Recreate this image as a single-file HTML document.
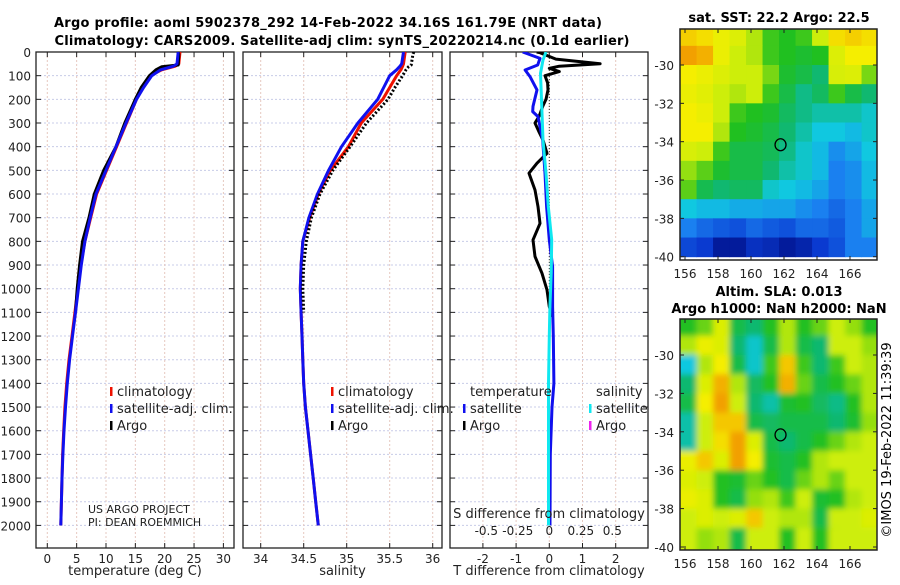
<!DOCTYPE html>
<html><head><meta charset="utf-8"><style>
body{margin:0;background:#fff;}
svg text{font-family:"DejaVu Sans","Liberation Sans",sans-serif;}
</style></head><body>
<svg id="s" width="900" height="580" viewBox="0 0 900 580" xmlns="http://www.w3.org/2000/svg">
<defs>
<clipPath id="c1"><rect x="36" y="52" width="198" height="496"/></clipPath>
<clipPath id="c2"><rect x="243" y="52" width="199" height="496"/></clipPath>
<clipPath id="c3"><rect x="450" y="52" width="198" height="496"/></clipPath>
<clipPath id="m1"><rect x="680" y="29" width="197" height="231"/></clipPath>
<clipPath id="m2"><rect x="680" y="319" width="197" height="231"/></clipPath>
<filter id="blur" x="-10%" y="-10%" width="120%" height="120%"><feGaussianBlur stdDeviation="3"/></filter>
</defs>
<text x="328" y="27" text-anchor="middle" font-size="13" font-weight="bold" textLength="548">Argo profile: aoml 5902378_292 14-Feb-2022 34.16S 161.79E (NRT data)</text>
<text x="342" y="45" text-anchor="middle" font-size="13" font-weight="bold" textLength="575">Climatology: CARS2009. Satellite-adj clim: synTS_20220214.nc (0.1d earlier)</text>
<text x="779" y="22" text-anchor="middle" font-size="13" font-weight="bold">sat. SST: 22.2 Argo: 22.5</text>
<text x="779" y="296" text-anchor="middle" font-size="13" font-weight="bold">Altim. SLA: 0.013</text>
<text x="779" y="313" text-anchor="middle" font-size="13" font-weight="bold">Argo h1000: NaN h2000: NaN</text>
<text transform="translate(891,440) rotate(-90)" text-anchor="middle" font-size="13">©IMOS 19-Feb-2022 11:39:39</text>
<g id="g"></g>
</svg>
<script>
// ---- data ----
const depths=[0,50,60,75,100,150,200,300,400,500,600,700,800,900,1000,1100,1200,1300,1400,1500,1600,1700,1800,1900,2000];
const climT=[22.6,22.4,21.8,19.5,17.5,16.2,15.2,13.5,11.8,10.1,8.4,7.4,6.4,5.7,5.2,4.7,4.2,3.7,3.3,3.0,2.8,2.6,2.5,2.4,2.3];
const satT=[22.3,22.1,21.5,19.3,17.8,16.4,15.2,13.4,11.7,10.0,8.3,7.3,6.4,5.8,5.3,4.8,4.3,3.8,3.4,3.1,2.85,2.65,2.5,2.4,2.3];
const argoDepth=[0,10,55,62,75,100,150,200,300,400,500,600,700,800,900,1000,1100];
const argoT=[22.3,22.4,22.3,19.5,18.5,17.4,16.0,15.0,13.2,11.7,9.6,8.0,7.1,6.0,5.5,5.1,4.8];
const climS=[35.68,35.66,35.65,35.63,35.58,35.5,35.42,35.17,35.02,34.81,34.67,34.57,34.49,34.47,34.46,34.47,34.48,34.49,34.5,34.52,34.55,34.58,34.61,34.64,34.67];
const satS=[35.66,35.64,35.62,35.58,35.5,35.43,35.36,35.13,34.94,34.79,34.66,34.56,34.49,34.47,34.46,34.47,34.48,34.49,34.5,34.52,34.55,34.58,34.61,34.64,34.67];
const argoS=[35.78,35.77,35.75,35.72,35.69,35.65,35.56,35.48,35.23,35.04,34.84,34.69,34.59,34.53,34.5,34.49,34.5];
const dDepth=[0,3,30,50,60,69,83,100,130,160,200,230,270,300,340,372,428,470,512,583,653,724,794,864,935,1005,1076,1118];
const dTargo=[-0.38,-0.28,0.2,1.53,0.3,0,0.3,-0.13,-0.05,-0.04,-0.1,-0.2,-0.3,-0.43,-0.3,-0.19,-0.07,-0.37,-0.61,-0.43,-0.34,-0.28,-0.49,-0.43,-0.22,-0.07,0,0.1];
const satDDepth=[0,27,55,76,104,160,230,252,273,372,512,653,794,907,1076,1200,1400,1500,1700,2000];
const dTsat=[-0.8,-0.28,-0.35,-0.73,-0.58,-0.37,-0.49,-0.5,-0.34,-0.2,-0.13,-0.08,0,0.1,0.1,0.12,0.14,0.08,0.03,0.02];
const satSDepth=[0,34,90,372,512,653,794,935,1076,1200,1400,2000];
const dSsat=[-0.026,-0.05,-0.07,-0.05,-0.026,-0.008,0.019,0.015,0.005,0,-0.006,-0.006];
const depthTicks=[0,100,200,300,400,500,600,700,800,900,1000,1100,1200,1300,1400,1500,1600,1700,1800,1900,2000];
const tTicks=[0,5,10,15,20,25,30];
const sTicks=[34,34.5,35,35.5,36];
const dTicks=[-2,-1,0,1,2];
const sDiffTicks=["-0.5","-0.25","0","0.25","0.5"];
const lonTicks=[156,158,160,162,164,166];
const latTicks=[-30,-32,-34,-36,-38,-40];
const sst=[
[.84,.82,.78,.75,.7,.62,.6,.62,.72,.82,.84,.82],
[.9,.88,.78,.72,.7,.62,.6,.58,.6,.75,.8,.8],
[.8,.78,.75,.72,.72,.66,.58,.55,.5,.74,.75,.66],
[.78,.76,.72,.7,.72,.62,.55,.48,.52,.62,.55,.5],
[.8,.78,.72,.62,.6,.58,.52,.48,.45,.45,.45,.42],
[.8,.8,.7,.6,.58,.55,.5,.45,.4,.4,.38,.42],
[.74,.72,.62,.55,.55,.53,.48,.42,.38,.32,.35,.4],
[.68,.64,.58,.55,.55,.5,.45,.42,.38,.3,.32,.38],
[.64,.54,.5,.52,.52,.42,.4,.38,.35,.3,.32,.38],
[.4,.38,.38,.36,.36,.35,.35,.32,.3,.25,.3,.35],
[.3,.25,.22,.2,.25,.22,.2,.25,.25,.22,.3,.35],
[.18,.15,.05,.05,.12,.1,.05,.08,.15,.2,.3,.3]];
const sla=[
[.6,.65,.75,.55,.5,.6,.7,.6,.65,.72,.68,.6],
[.7,.78,.75,.5,.42,.55,.7,.55,.5,.72,.72,.68],
[.4,.7,.8,.55,.42,.62,.85,.62,.5,.62,.72,.7],
[.5,.75,.88,.7,.52,.6,.88,.65,.55,.6,.65,.7],
[.55,.8,.9,.72,.5,.45,.58,.6,.52,.48,.6,.7],
[.45,.72,.85,.85,.55,.52,.55,.55,.55,.5,.58,.68],
[.45,.72,.82,.9,.75,.55,.5,.55,.6,.65,.7,.72],
[.78,.85,.75,.9,.8,.58,.55,.6,.7,.72,.72,.72],
[.75,.72,.6,.58,.65,.6,.55,.65,.7,.65,.72,.72],
[.78,.75,.6,.55,.68,.7,.62,.72,.58,.6,.7,.72],
[.72,.75,.72,.75,.85,.72,.7,.7,.55,.72,.72,.75],
[.72,.68,.7,.55,.72,.72,.6,.72,.6,.72,.72,.72]];
const argoLon=161.79, argoLat=-34.16;

// ---- scales ----
const yD=d=>52+d*0.2367;
const xT=v=>47.3+v*5.87;
const xS=v=>260.7+(v-34)*86;
const xDT=v=>549.3+v*33.2;
const xDS=v=>549.3+v*126;
const lonX=l=>685+(l-156)*16.5;
const latY1=l=>65+(-30-l)*19.17;
const latY2=l=>355+(-30-l)*19.2;

const NS="http://www.w3.org/2000/svg";
const G=document.getElementById('g');
function mk(tag,at,par){const e=document.createElementNS(NS,tag);for(const k in at)e.setAttribute(k,at[k]);(par||G).appendChild(e);return e;}
function txt(x,y,s,anchor,size,par){const e=mk('text',{x:x,y:y,'text-anchor':anchor||'start','font-size':size||12,fill:'#222'},par);e.textContent=s;return e;}
function line(xs,ds,xf,col,w,clip,dash){
  let p=ds.map((d,i)=>(i?'L':'M')+xf(xs[i]).toFixed(1)+','+yD(d).toFixed(1)).join('');
  const e=mk('path',{d:p,fill:'none',stroke:col,'stroke-width':w,'stroke-linejoin':'round','clip-path':'url(#'+clip+')'});
  if(dash)e.setAttribute('stroke-dasharray',dash);
  return e;
}

const panels=[{x0:36,x1:234,ticks:tTicks,xf:xT,clip:'c1',lab:'temperature (deg C)'},
              {x0:243,x1:442,ticks:sTicks,xf:xS,clip:'c2',lab:'salinity'},
              {x0:450,x1:648,ticks:dTicks,xf:xDT,clip:'c3',lab:'T difference from climatology'}];
panels.forEach((p,pi)=>{
  const grp=mk('g',{});
  
  
  depthTicks.forEach(d=>{
    const gl=mk('line',{x1:p.x0,x2:p.x1,y1:yD(d),y2:yD(d),stroke:'#c8cce8','stroke-width':1,'stroke-dasharray':'2,2'},grp);
    
    
    mk('line',{x1:p.x0,x2:p.x0+5,y1:yD(d),y2:yD(d),stroke:'#222'},grp);
    mk('line',{x1:p.x1-5,x2:p.x1,y1:yD(d),y2:yD(d),stroke:'#222'},grp);
  });
  p.ticks.forEach(t=>{
    const x=p.xf(t);
    const gl=mk('line',{x1:x,x2:x,y1:52,y2:548,stroke:'#e6c8c0','stroke-width':1,'stroke-dasharray':'2,2'},grp);
    
    
    mk('line',{x1:x,x2:x,y1:52,y2:57,stroke:'#222'},grp);
    mk('line',{x1:x,x2:x,y1:543,y2:548,stroke:'#222'},grp);
    const lt=txt(x,563,String(t),'middle',12,grp);
    
    
  });
  const fr=mk('rect',{x:p.x0,y:52,width:p.x1-p.x0,height:496,fill:'none',stroke:'#222','stroke-width':1.3},grp);
  
  
  const xl=txt((p.x0+p.x1)/2,575,p.lab,'middle',13,grp);
  
  
});
depthTicks.forEach(d=>{
  const t=txt(31,yD(d)+5,String(d),'end',12);
  
  
});

let e;
e=line(climT,depths,xT,'#ee1100',3,'c1');


e=line(argoT,argoDepth,xT,'#000',3,'c1');


e=line(satT,depths,xT,'#1010ee',3,'c1');


e=line(climS,depths,xS,'#ee1100',3,'c2');


e=line(satS,depths,xS,'#1010ee',3,'c2');


e=line(argoS,argoDepth,xS,'#000',3,'c2','2,2');


e=mk('line',{x1:xDT(0),x2:xDT(0),y1:yD(0),y2:yD(1110),stroke:'#333','stroke-width':1,'stroke-dasharray':'1,2'});


e=line(dTargo,dDepth,xDT,'#000',3,'c3');


e=line(dTsat,satDDepth,xDT,'#1010ee',3,'c3');


e=line(dSsat,satSDepth,xDS,'#10e8f0',3,'c3');



function legend(x,y,col,label,name){
  const g=mk('g',{});
  
  
  mk('rect',{x:x,y:y-9,width:2.5,height:9,fill:col},g);
  txt(x+7,y,label,'start',13,g);
}
legend(110,396,'#ee1100','climatology','legend-entry-climatology');
legend(110,413,'#1010ee','satellite-adj. clim.','legend-entry-satellite');
legend(110,430,'#000','Argo','legend-entry-argo');
legend(331,396,'#ee1100','climatology','legend-entry-climatology-s');
legend(331,413,'#1010ee','satellite-adj. clim.','legend-entry-satellite-s');
legend(331,430,'#000','Argo','legend-entry-argo-s');
e=txt(470,396,'temperature','start',13);


e=txt(596,396,'salinity','start',13);


legend(463,413,'#1010ee','satellite','legend-entry-t-satellite');
legend(463,430,'#000','Argo','legend-entry-t-argo');
legend(589,413,'#10e8f0','satellite','legend-entry-s-satellite');
legend(589,430,'#ee22ee','Argo','legend-entry-s-argo');
e=txt(88,513,'US ARGO PROJECT','start',11);


e=txt(88,526,'PI: DEAN ROEMMICH','start',11);


e=txt(549,518,'S difference from climatology','middle',13);


sDiffTicks.forEach(s=>{
  const t=txt(xDS(parseFloat(s)),535,s,'middle',12);
  
  
});

const stops=[[0,[0,12,128]],[.15,[10,58,208]],[.3,[26,128,240]],[.4,[16,200,224]],[.5,[16,184,112]],[.6,[32,192,32]],[.66,[120,215,20]],[.72,[205,238,10]],[.8,[245,238,0]],[.9,[242,160,0]],[1,[208,96,0]]];
function cmap(v){
  for(let i=1;i<stops.length;i++){if(v<=stops[i][0]){const a=stops[i-1],b=stops[i],t=(v-a[0])/(b[0]-a[0]);
    return 'rgb('+a[1].map((c,k)=>Math.round(c+(b[1][k]-c)*t)).join(',')+')';}}
  return 'rgb(208,96,0)';
}
function drawMap(data,latY,top,clip,blur,name){
  const g=mk('g',{'clip-path':'url(#'+clip+')'});
  
  
  const inner=mk('g',blur?{filter:'url(#blur)'}:{},g);
  data.forEach((row,r)=>row.forEach((v,c)=>{
    const lat0=-28+(-r), lon0=155.7+c;
    const x=lonX(lon0), y=latY(lat0);
    const w=lonX(lon0+1)-x+0.5, h=latY(lat0-1)-y+0.5;
    const pad=blur&&(c===0||r===0||c===row.length-1||r===data.length-1)?12:0;
    const cell=mk('rect',{x:x-(c===0?pad:0),y:y-(r===0?pad:0),width:w+pad,height:h+pad,fill:cmap(v)},inner);
    
    
  }));
  const ci=mk('ellipse',{cx:lonX(argoLon),cy:latY(argoLat),rx:5.5,ry:6,fill:'none',stroke:'#000','stroke-width':1.3},g);
  
  
  mk('rect',{x:680,y:top,width:197,height:231,fill:'none',stroke:'#222','stroke-width':1.5});
  lonTicks.forEach(l=>{
    mk('line',{x1:lonX(l),x2:lonX(l),y1:top+231,y2:top+227,stroke:'#222'});
    mk('line',{x1:lonX(l),x2:lonX(l),y1:top,y2:top+4,stroke:'#222'});
    const t=txt(lonX(l),top+249,String(l),'middle',12);
    
    
  });
  latTicks.forEach(l=>{
    mk('line',{x1:680,x2:684,y1:latY(l),y2:latY(l),stroke:'#222'});
    mk('line',{x1:873,x2:877,y1:latY(l),y2:latY(l),stroke:'#222'});
    const t=txt(674,latY(l)+5,String(l),'end',12);
    
    
  });
}
drawMap(sst,latY1,29,'m1',false,'sst-map');
drawMap(sla,latY2,319,'m2',true,'sla-map');
</script>
</body></html>
